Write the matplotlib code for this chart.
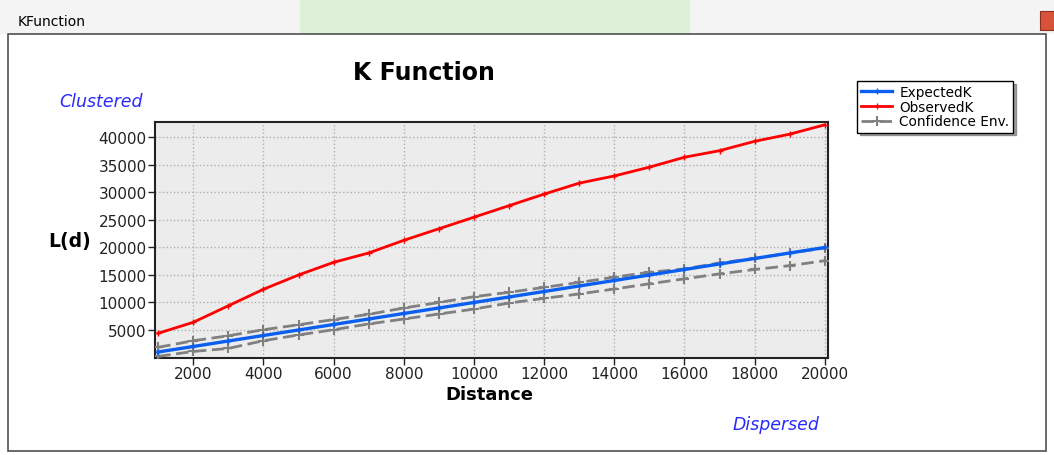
import matplotlib.pyplot as plt
from matplotlib.patches import Rectangle
import numpy as np

# distance bands and L(d) values
distance = [1000, 2000, 3000, 4000, 5000, 6000, 7000, 8000, 9000, 10000,
            11000, 12000, 13000, 14000, 15000, 16000, 17000, 18000, 19000, 20000]
expected_k = [1000, 2000, 3000, 4000, 5000, 6000, 7000, 8000, 9000, 10000,
              11000, 12000, 13000, 14000, 15000, 16000, 17000, 18000, 19000, 20000]
observed_k = [4400, 6400, 9400, 12400, 15000, 17300, 19000, 21300, 23400, 25500,
              27600, 29700, 31700, 33000, 34600, 36400, 37600, 39300, 40600, 42300]
conf_upper = [1850, 3050, 3950, 5050, 5950, 6900, 7850, 9000, 10000, 11050,
              11850, 12750, 13650, 14600, 15500, 16100, 17200, 18000, 19000, 19900]
conf_lower = [200, 1100, 1650, 3050, 4100, 5050, 6100, 7000, 7900, 8800,
              9900, 10750, 11550, 12450, 13400, 14300, 15200, 16000, 16700, 17600]

x_ticks = [2000, 4000, 6000, 8000, 10000, 12000, 14000, 16000, 18000, 20000]
y_ticks = [5000, 10000, 15000, 20000, 25000, 30000, 35000, 40000]

W, H = 1054, 456
fig = plt.figure(figsize=(W / 100, H / 100), dpi=100)
fig.patch.set_facecolor('white')


def fx(px):
    return px / W


def fy(py):
    return 1 - py / H


### Window chrome ###
chrome = [
    Rectangle((0, fy(35)), 1, 35 / H, facecolor='#f4f4f4', edgecolor='none'),
    Rectangle((fx(300), fy(35)), 390 / W, 35 / H, facecolor='#dcf0d8', edgecolor='none'),
    Rectangle((fx(8), fy(452)), 1038 / W, 417 / H, facecolor='white',
              edgecolor='#505050', linewidth=1.2),
    Rectangle((fx(1040), fy(31)), 14 / W, 19 / H, facecolor='#d9533a',
              edgecolor='#8a3020', linewidth=0.8),
]
for p in chrome:
    p.set_transform(fig.transFigure)
    p.set_zorder(-5)
    fig.patches.append(p)
fig.text(fx(18), fy(22), 'KFunction', fontsize=10, va='center', ha='left', color='black')

### Chart ###
ax = fig.add_axes([fx(155), fy(358.5), (828 - 155) / W, (358.5 - 122.5) / H])
ax.set_zorder(2)
ax.set_facecolor('#ececec')

dash = (0, (4.5, 2))
ax.plot(distance, expected_k, color='#0a5ff0', linewidth=2.4, marker='+',
        markersize=5, markeredgewidth=1, label='ExpectedK', zorder=4)
ax.plot(distance, observed_k, color='#ff0000', linewidth=2, marker='+',
        markersize=5, markeredgewidth=1, label='ObservedK', zorder=4)
ax.plot(distance, conf_upper, color='#808080', linewidth=2, linestyle=dash,
        marker='+', markersize=7, markeredgewidth=1.5, label='Confidence Env.', zorder=3)
ax.plot(distance, conf_lower, color='#808080', linewidth=2, linestyle=dash,
        marker='+', markersize=7, markeredgewidth=1.5, zorder=3)

ax.set_xlim(910, 20090)
ax.set_ylim(0, 42900)
ax.set_xticks(x_ticks)
ax.set_yticks(y_ticks)
ax.tick_params(labelsize=11, length=5, width=1, pad=1, colors='#222222')
ax.grid(True, color='#b0b0b0', linestyle=':', linewidth=1)
for s in ax.spines.values():
    s.set_linewidth(1.5)
    s.set_color('#222222')

fig.text(fx(424), fy(73), 'K Function', fontsize=17, fontweight='bold',
         ha='center', va='center')
fig.text(fx(489), fy(395), 'Distance', fontsize=13, fontweight='bold',
         ha='center', va='center')
fig.text(fx(70), fy(242), 'L(d)', fontsize=13.5, fontweight='bold',
         ha='center', va='center')
fig.text(fx(101), fy(102), 'Clustered', fontsize=12.5, style='italic',
         color='#2a2aff', ha='center', va='center')
fig.text(fx(776), fy(425), 'Dispersed', fontsize=12.5, style='italic',
         color='#2a2aff', ha='center', va='center')

leg = ax.legend(loc='upper left', bbox_to_anchor=(fx(857), fy(82)),
                bbox_transform=fig.transFigure, fontsize=9.8,
                frameon=True, fancybox=False, shadow=True, framealpha=1,
                edgecolor='black', handlelength=2.3, borderpad=0.3,
                labelspacing=0.05, handletextpad=0.5, borderaxespad=0)
leg.get_frame().set_linewidth(1)

plt.savefig('out.png', dpi=100)
